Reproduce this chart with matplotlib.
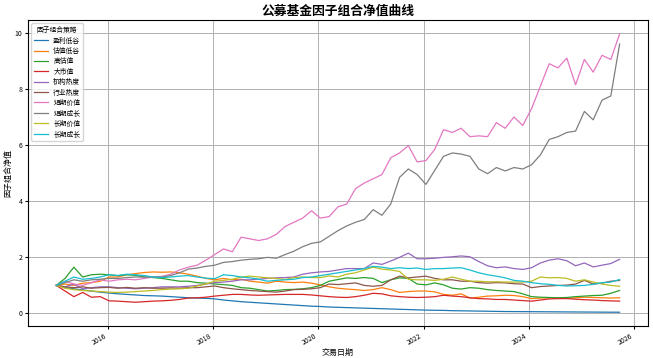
import numpy as np
import pandas as pd
import matplotlib
matplotlib.use('Agg')
from matplotlib import pyplot as plt

plt.rcParams['font.family'] = ['Noto Sans CJK SC', 'DejaVu Sans']
plt.rcParams['axes.unicode_minus'] = False

# 交易日期（约两个月一个点）
dates = pd.date_range('2015-01-05', '2025-09-25', periods=65)

# 各因子组合净值
yingli_digu = [1.0, 0.92, 0.88, 0.84, 0.8, 0.76, 0.73, 0.7, 0.68, 0.66, 0.64, 0.63, 0.62, 0.6, 0.58, 0.56,
               0.55, 0.54, 0.52, 0.48, 0.45, 0.42, 0.4, 0.38, 0.36, 0.34, 0.32, 0.3, 0.28, 0.26, 0.25, 0.23,
               0.22, 0.21, 0.2, 0.19, 0.18, 0.17, 0.16, 0.15, 0.14, 0.13, 0.12, 0.115, 0.11, 0.1, 0.095, 0.09,
               0.085, 0.08, 0.075, 0.07, 0.068, 0.066, 0.064, 0.062, 0.06, 0.058, 0.056, 0.054, 0.052, 0.05,
               0.048, 0.046, 0.045]
guzhi_digu = [1.0, 1.05, 1.0, 1.08, 1.1, 1.15, 1.3, 1.3, 1.38, 1.42, 1.46, 1.48, 1.47, 1.48, 1.45, 1.4,
              1.33, 1.25, 1.2, 1.25, 1.2, 1.22, 1.15, 1.12, 1.08, 1.15, 1.12, 1.1, 1.12, 1.08, 1.02, 0.95,
              0.9, 0.87, 0.85, 0.82, 0.85, 0.92, 0.85, 0.75, 0.78, 0.8, 0.8, 0.77, 0.68, 0.65, 0.7, 0.55,
              0.58, 0.62, 0.63, 0.65, 0.64, 0.6, 0.53, 0.55, 0.56, 0.55, 0.54, 0.56, 0.58, 0.57, 0.56, 0.55,
              0.56]
gao_guzhi = [1.0, 1.25, 1.65, 1.3, 1.38, 1.4, 1.38, 1.35, 1.38, 1.36, 1.3, 1.28, 1.25, 1.2, 1.15, 1.15,
             1.1, 1.08, 1.05, 1.03, 1.0, 0.92, 0.9, 0.85, 0.8, 0.82, 0.85, 0.86, 0.88, 0.92, 1.0, 1.15,
             1.21, 1.27, 1.25, 1.28, 1.25, 1.1, 1.2, 1.27, 1.25, 1.05, 1.02, 1.09, 1.02, 0.9, 0.87, 0.92,
             0.9, 0.85, 0.82, 0.8, 0.78, 0.7, 0.6, 0.58, 0.57, 0.56, 0.57, 0.6, 0.62, 0.64, 0.65, 0.72,
             0.82]
da_shizhi = [1.0, 0.8, 0.6, 0.75, 0.58, 0.6, 0.45, 0.44, 0.42, 0.4, 0.42, 0.44, 0.45, 0.47, 0.5, 0.55,
             0.56, 0.58, 0.62, 0.65, 0.68, 0.68, 0.66, 0.65, 0.66, 0.67, 0.68, 0.68, 0.68, 0.66, 0.63, 0.6,
             0.58, 0.57, 0.6, 0.65, 0.72, 0.7, 0.63, 0.6, 0.58, 0.57, 0.58, 0.6, 0.65, 0.62, 0.6, 0.56,
             0.53, 0.52, 0.5, 0.5, 0.48, 0.46, 0.44, 0.48, 0.52, 0.53, 0.53, 0.51, 0.49, 0.48, 0.46, 0.45,
             0.44]
jigou_redu = [1.0, 0.95, 1.05, 0.88, 0.92, 0.95, 0.95, 0.92, 0.9, 0.88, 0.9, 0.92, 0.95, 0.95, 0.95, 0.97,
              1.0, 1.05, 1.1, 1.12, 1.15, 1.2, 1.2, 1.22, 1.25, 1.27, 1.28, 1.3, 1.4, 1.45, 1.48, 1.5,
              1.55, 1.6, 1.6, 1.6, 1.8, 1.75, 1.87, 2.0, 2.15, 1.95, 1.95, 1.97, 2.0, 2.02, 2.05, 2.02,
              1.85, 1.7, 1.63, 1.66, 1.6, 1.57, 1.63, 1.8, 1.9, 1.95, 1.88, 1.7, 1.8, 1.66, 1.72, 1.78,
              1.93]
hangye_redu = [1.0, 0.95, 0.92, 0.95, 0.9, 0.92, 0.93, 0.9, 0.93, 0.9, 0.92, 0.9, 0.9, 0.91, 0.9, 0.92,
               0.92, 0.95, 0.98, 0.92, 0.88, 0.85, 0.82, 0.8, 0.78, 0.76, 0.8, 0.85, 0.86, 0.88, 0.92, 1.05,
               1.03, 1.06, 1.09, 1.0, 0.97, 1.0, 1.2, 1.33, 1.27, 1.3, 1.33, 1.25, 1.2, 1.2, 1.15, 1.15,
               1.1, 1.08, 1.1, 1.09, 1.06, 1.05, 0.92, 0.96, 0.98, 1.0, 1.01, 1.05, 1.18, 1.05, 1.08, 1.15,
               1.18]
duanqi_jiazhi = [1.0, 1.15, 1.05, 1.0, 1.1, 1.2, 1.15, 1.2, 1.22, 1.2, 1.25, 1.3, 1.32, 1.4, 1.55, 1.65,
                 1.72, 1.9, 2.1, 2.3, 2.2, 2.72, 2.66, 2.6, 2.66, 2.82, 3.1, 3.25, 3.4, 3.66, 3.4, 3.45,
                 3.8, 3.9, 4.45, 4.65, 4.8, 4.95, 5.55, 5.72, 5.98, 5.4, 5.45, 5.85, 6.55, 6.45, 6.6, 6.3,
                 6.33, 6.3, 6.8, 6.6, 7.0, 6.7, 7.3, 8.1, 8.9, 8.75, 9.1, 8.15, 9.05, 8.6, 9.2, 9.05,
                 9.96]
duanqi_chengzhang = [1.0, 1.1, 1.2, 1.15, 1.2, 1.22, 1.25, 1.25, 1.28, 1.3, 1.3, 1.3, 1.3, 1.35, 1.45, 1.58,
                     1.62, 1.68, 1.72, 1.82, 1.85, 1.9, 1.93, 1.95, 2.0, 1.97, 2.1, 2.22, 2.38, 2.5, 2.55, 2.75,
                     2.95, 3.12, 3.25, 3.35, 3.7, 3.5, 3.9, 4.85, 5.15, 4.95, 4.6, 5.1, 5.6, 5.72, 5.68, 5.6,
                     5.15, 4.98, 5.2, 5.08, 5.2, 5.15, 5.3, 5.65, 6.2, 6.3, 6.45, 6.5, 7.2, 6.9, 7.6, 7.75,
                     9.6]
changqi_jiazhi = [1.0, 0.9, 0.85, 0.82, 0.8, 0.78, 0.76, 0.75, 0.76, 0.78, 0.8, 0.82, 0.85, 0.87, 0.88, 0.9,
                  0.98, 1.05, 1.15, 1.18, 1.22, 1.3, 1.33, 1.3, 1.27, 1.25, 1.21, 1.28, 1.3, 1.28, 1.28, 1.34,
                  1.3, 1.4, 1.45, 1.55, 1.65, 1.58, 1.55, 1.5, 1.22, 1.2, 1.2, 1.18, 1.22, 1.3, 1.22, 1.15,
                  1.15, 1.13, 1.13, 1.12, 1.12, 1.12, 1.15, 1.3, 1.27, 1.28, 1.25, 1.15, 1.2, 1.12, 1.05, 1.0,
                  0.97]
changqi_chengzhang = [1.0, 1.15, 1.3, 1.22, 1.25, 1.3, 1.38, 1.35, 1.4, 1.38, 1.35, 1.3, 1.28, 1.3, 1.33, 1.35,
                      1.3, 1.26, 1.24, 1.38, 1.35, 1.3, 1.27, 1.22, 1.15, 1.18, 1.2, 1.22, 1.28, 1.3, 1.35, 1.4,
                      1.45, 1.5, 1.55, 1.6, 1.68, 1.65, 1.6, 1.63, 1.6, 1.62, 1.57, 1.6, 1.6, 1.62, 1.63, 1.55,
                      1.45, 1.38, 1.33, 1.27, 1.18, 1.15, 1.1, 1.06, 1.04, 1.0, 0.98, 0.99, 1.0, 1.04, 1.1, 1.12,
                      1.21]

names = ['盈利低谷', '估值低谷', '高估值', '大市值', '机构热度', '行业热度',
         '短期价值', '短期成长', '长期价值', '长期成长']
series = [yingli_digu, guzhi_digu, gao_guzhi, da_shizhi, jigou_redu, hangye_redu,
          duanqi_jiazhi, duanqi_chengzhang, changqi_jiazhi, changqi_chengzhang]

fig, ax = plt.subplots(figsize=(6.53, 3.58), dpi=100)

for name, vals in zip(names, series):
    ax.plot(dates, vals, label=name, linewidth=0.9)

ax.set_title('公募基金因子组合净值曲线', fontsize=9.2, fontweight='bold', pad=4)
ax.set_xlabel('交易日期', fontsize=5.8, labelpad=1)
ax.set_ylabel('因子组合净值', fontsize=5.8, labelpad=2)
ax.tick_params(labelsize=5, length=2.5, pad=1.5)
ax.grid(True, linewidth=0.7, color='#b0b0b0')
ax.legend(title='因子组合策略', loc='upper left', fontsize=4.9, title_fontsize=4.9,
          labelspacing=0.35, handlelength=2.0, borderpad=0.4)
fig.autofmt_xdate()
fig.subplots_adjust(left=0.043, right=0.992, top=0.944, bottom=0.089)

plt.savefig('out.png', dpi=100)
